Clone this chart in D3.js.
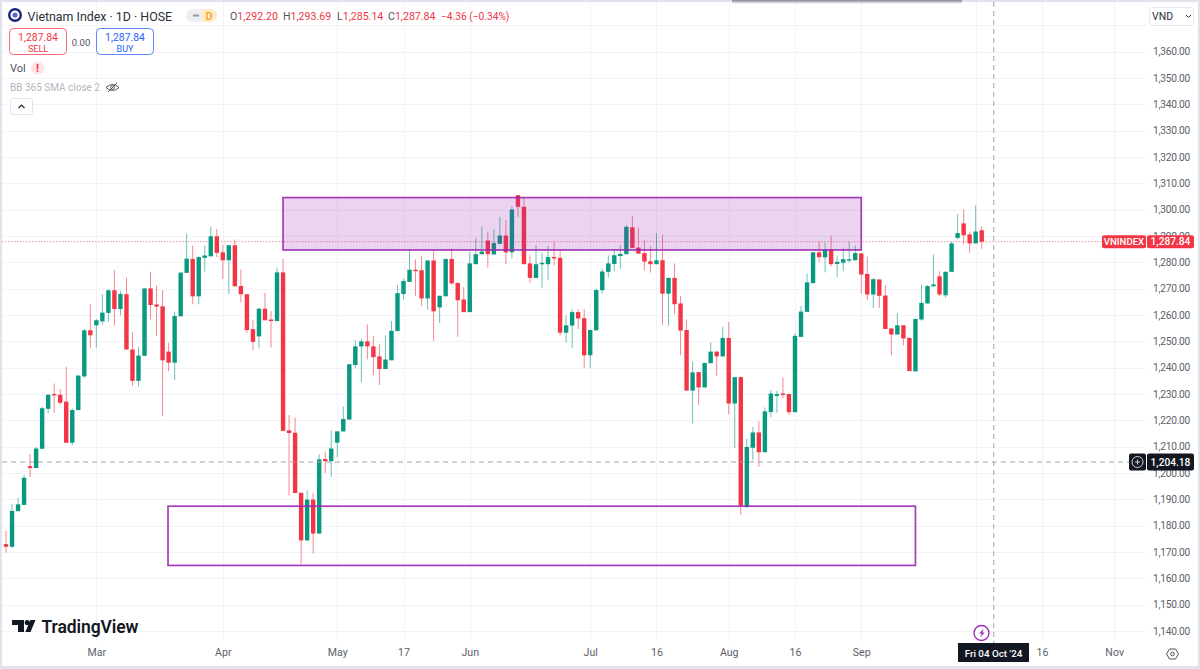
<!DOCTYPE html>
<html>
<head>
<meta charset="utf-8">
<script src="https://cdn.jsdelivr.net/npm/d3@7/dist/d3.min.js"></script>
<style>
  html, body { margin: 0; padding: 0; background: #fff; overflow: hidden; }
  svg { display: block; }
  text { font-family: Roboto, "Liberation Sans", sans-serif; }
  .axis path, .axis line { display: none; }
  .axis text { fill: #5d606b; font-size: 10.2px; letter-spacing: -0.25px; font-family: Roboto, sans-serif; }
  .axis.time text { font-size: 10.6px; letter-spacing: 0; }
</style>
</head>
<body>
<svg width="1200" height="669"></svg>
<script>
// daily candles, oldest first
var opens = [
  1173.0,1172.0,1185.5,1187.9,1202.6,1201.9,1209.2,1224.4,1230.0,1229.7,
  1227.1,1211.5,1223.9,1236.7,1254.2,1256.1,1257.6,1260.8,1269.4,1262.3,
  1267.9,1246.9,1235.0,1244.5,1270.1,1264.0,1263.3,1246.1,1241.9,1259.5,
  1276.0,1281.3,1267.1,1281.7,1282.3,1289.9,1283.8,1280.8,1286.5,1271.0,
  1267.9,1254.6,1251.9,1262.4,1258.3,1257.7,1276.2,1216.2,1215.3,1192.5,
  1174.4,1189.9,1177.0,1205.3,1204.5,1211.5,1215.8,1220.3,1241.0,1248.1,
  1250.0,1248.1,1244.3,1239.5,1242.8,1253.9,1268.0,1272.6,1277.2,1277.0,
  1266.3,1280.7,1262.9,1267.1,1281.3,1272.2,1265.9,1261.1,1279.3,1283.1,
  1288.3,1283.0,1287.0,1290.2,1283.8,1305.5,1301.1,1279.6,1274.1,1279.3,
  1279.3,1282.0,1281.7,1253.3,1256.0,1261.1,1258.8,1244.7,1254.2,1269.4,
  1276.4,1279.4,1282.4,1283.1,1293.3,1285.6,1283.5,1280.4,1279.3,1280.8,
  1268.1,1274.1,1264.4,1254.3,1231.3,1238.3,1232.5,1241.7,1246.1,1244.3,
  1251.3,1226.4,1236.4,1187.1,1209.6,1215.4,1207.9,1223.2,1229.3,1230.2,
  1230.0,1223.1,1251.7,1261.2,1272.1,1283.8,1281.9,1284.9,1279.4,1279.9,
  1280.7,1280.8,1283.4,1275.6,1267.8,1273.5,1267.4,1254.9,1252.6,1256.1,
  1251.3,1238.6,1258.3,1264.4,1270.9,1274.7,1267.5,1276.4,1289.3,1294.8,
  1290.6,1287.2,1292.2
];
var highs = [
  1178.0,1188.2,1190.6,1199.3,1207.2,1209.9,1225.1,1230.0,1234.0,1231.9,
  1240.3,1224.5,1237.3,1254.6,1264.1,1258.5,1267.9,1269.6,1277.0,1269.2,
  1274.1,1253.6,1247.9,1270.2,1276.4,1271.2,1269.4,1249.5,1261.3,1276.2,
  1290.9,1286.4,1282.3,1286.4,1293.5,1292.7,1286.5,1286.5,1288.7,1277.3,
  1267.9,1258.0,1262.7,1268.4,1261.5,1278.0,1281.4,1222.0,1221.0,1192.5,
  1193.4,1192.5,1207.1,1208.0,1216.2,1215.8,1225.3,1241.3,1250.4,1251.0,
  1256.4,1252.0,1248.9,1252.3,1257.7,1271.4,1273.8,1284.6,1281.1,1282.6,
  1280.8,1284.6,1267.4,1281.4,1285.3,1272.3,1270.7,1284.0,1289.1,1293.5,
  1291.6,1292.6,1297.3,1296.0,1301.3,1305.5,1304.3,1282.7,1286.5,1283.7,
  1286.2,1287.8,1284.9,1259.9,1262.2,1262.2,1262.3,1254.5,1270.0,1277.5,
  1282.7,1284.6,1286.5,1294.1,1297.5,1293.1,1288.4,1286.1,1291.2,1290.6,
  1274.2,1279.6,1267.2,1258.3,1242.2,1238.3,1241.9,1249.6,1246.3,1255.5,
  1257.4,1236.4,1236.6,1213.1,1217.5,1219.6,1224.9,1231.5,1231.2,1236.3,
  1230.2,1253.0,1263.5,1275.8,1283.9,1288.0,1287.4,1290.2,1282.6,1285.3,
  1287.8,1286.4,1283.5,1282.1,1274.1,1273.6,1271.4,1255.0,1260.7,1256.1,
  1251.5,1258.6,1271.4,1271.4,1283.0,1276.6,1276.6,1287.8,1298.3,1300.1,
  1291.6,1301.7,1293.69
];
var lows = [
  1169.7,1171.5,1185.5,1187.9,1198.5,1201.9,1209.2,1222.6,1222.9,1225.9,
  1211.4,1210.5,1223.9,1236.2,1247.4,1247.7,1256.3,1257.4,1256.0,1259.8,
  1246.9,1233.1,1232.9,1244.5,1258.4,1252.0,1221.6,1238.7,1235.2,1259.5,
  1276.0,1264.1,1264.1,1276.5,1282.3,1282.0,1273.7,1267.9,1270.9,1264.8,
  1253.2,1246.6,1247.4,1258.0,1247.7,1257.7,1216.0,1191.4,1192.4,1165.5,
  1174.4,1169.4,1177.0,1200.0,1198.5,1206.0,1215.8,1220.3,1239.8,1234.6,
  1243.2,1237.1,1233.4,1239.5,1242.8,1253.9,1265.9,1272.6,1267.2,1263.5,
  1262.1,1250.2,1257.0,1267.1,1271.4,1251.7,1261.1,1261.1,1279.3,1283.1,
  1278.0,1283.0,1287.0,1279.3,1281.5,1297.3,1279.3,1272.2,1274.1,1270.4,
  1273.2,1278.9,1252.2,1249.6,1247.4,1254.7,1239.9,1239.9,1254.2,1268.1,
  1274.2,1276.6,1277.6,1283.1,1285.5,1283.3,1277.0,1276.1,1279.3,1256.3,
  1255.9,1260.4,1244.7,1231.3,1218.8,1225.9,1232.5,1241.7,1236.9,1244.3,
  1222.3,1209.4,1184.1,1186.7,1204.9,1202.3,1207.9,1221.1,1222.9,1228.4,
  1222.1,1223.1,1251.7,1268.8,1272.1,1280.2,1276.2,1278.5,1274.5,1276.6,
  1279.9,1280.8,1268.1,1265.6,1262.7,1262.7,1254.7,1244.7,1252.6,1248.5,
  1238.7,1238.6,1257.8,1264.4,1270.9,1267.1,1266.6,1276.4,1288.7,1286.9,
  1283.6,1287.2,1285.14
];
var closes = [
  1172.0,1185.6,1188.1,1198.2,1201.9,1209.3,1224.6,1229.7,1229.5,1226.7,
  1211.5,1223.9,1237.0,1254.2,1252.3,1258.0,1260.9,1269.4,1262.3,1268.0,
  1246.9,1235.0,1244.6,1270.1,1263.8,1263.2,1242.8,1241.9,1259.6,1276.1,
  1281.4,1267.1,1282.0,1282.6,1289.9,1283.6,1280.8,1286.5,1270.9,1267.9,
  1254.3,1249.8,1262.4,1258.0,1257.7,1276.2,1216.0,1215.2,1192.4,1174.4,
  1189.9,1177.0,1205.2,1204.5,1209.3,1215.8,1220.5,1241.3,1248.1,1250.0,
  1248.1,1244.0,1239.5,1243.1,1254.0,1268.3,1272.9,1277.2,1276.7,1266.3,
  1280.7,1261.4,1267.3,1281.3,1272.0,1265.6,1261.1,1279.6,1283.1,1284.1,
  1283.1,1287.3,1290.2,1283.8,1300.1,1301.1,1279.3,1274.1,1279.3,1279.8,
  1282.0,1281.6,1253.3,1256.1,1261.1,1258.7,1244.7,1254.3,1269.5,1276.5,
  1279.6,1282.7,1283.2,1293.5,1285.5,1283.3,1280.3,1279.3,1280.8,1268.1,
  1274.1,1264.1,1254.1,1231.3,1238.2,1232.5,1241.8,1246.1,1244.3,1251.3,
  1226.4,1236.4,1187.6,1209.9,1215.4,1207.9,1223.4,1230.2,1230.0,1229.7,
  1223.1,1252.1,1261.3,1272.4,1283.8,1282.0,1284.9,1279.3,1280.2,1281.2,
  1281.2,1283.5,1275.4,1267.8,1273.6,1267.3,1254.7,1252.6,1256.1,1251.1,
  1238.7,1258.5,1264.6,1271.0,1271.6,1267.8,1276.4,1287.2,1291.1,1290.3,
  1287.2,1291.7,1287.84
];

// bar numbers where the time axis puts a label, the grid also has one at Oct (under the date tag)
var timeGrid = [15, 36, 55, 66, 77, 97, 108, 120, 131, 142, 161, 172, 184];
var timeTicks = [15, 36, 55, 66, 77, 97, 108, 120, 131, 142, 172, 184];
var timeLabels = ["Mar", "Apr", "May", "17", "Jun", "Jul", "16", "Aug", "16", "Sep", "16", "Nov"];
var priceGrid = d3.range(1140, 1371, 10);
var priceTicks = d3.range(1140, 1361, 10);

// the two rectangles drawn on the chart: bar from, bar to, price top, price bottom
var zoneBars = [[46, 142], [26.9, 151]];
var zonePrices = [[1304.6, 1284.7], [1187.4, 1164.9]];

var crossBar = 164;
var crossPrice = 1204.18;

var red = "#f23645", green = "#089981", dark = "#131722";
var formatPrice = d3.format(",.2f");

var svg = d3.select("svg");
var width = +svg.attr("width");
var height = +svg.attr("height");
var plotRight = 1146, plotBottom = 642;

var x = d3.scaleLinear().domain([0, 162]).range([6, 981.7]);
var y = d3.scaleLinear().domain([1140, 1360]).range([631, 51.7]);
var candles = d3.range(opens.length);
var last = closes[closes.length - 1];

// frame
svg.append("rect").attr("width", width).attr("height", height).attr("fill", "#e0e3ec");
svg.append("rect").attr("x", 2).attr("y", 2).attr("width", width - 4).attr("height", height - 5).attr("fill", "#fff");

// grid
svg.append("g").selectAll("line").data(priceGrid).enter().append("line")
  .attr("x1", 2).attr("x2", plotRight)
  .attr("y1", function(d) { return Math.round(y(d)) + 0.5; })
  .attr("y2", function(d) { return Math.round(y(d)) + 0.5; })
  .attr("stroke", "#f1f3f8");
svg.append("g").selectAll("line").data(timeGrid).enter().append("line")
  .attr("x1", function(d) { return Math.round(x(d)) + 0.5; })
  .attr("x2", function(d) { return Math.round(x(d)) + 0.5; })
  .attr("y1", 2).attr("y2", plotBottom)
  .attr("stroke", "#f1f3f8");

// last price line
svg.append("line")
  .attr("x1", 2).attr("x2", 1102)
  .attr("y1", y(last)).attr("y2", y(last))
  .attr("stroke", red).attr("stroke-opacity", 0.55).attr("stroke-dasharray", "1.5,1.5");

// candles
var candle = svg.append("g").selectAll("g").data(candles).enter().append("g");
candle.append("line")
  .attr("x1", function(i) { return x(i); })
  .attr("x2", function(i) { return x(i); })
  .attr("y1", function(i) { return y(highs[i]); })
  .attr("y2", function(i) { return y(lows[i]); })
  .attr("stroke", function(i) { return closes[i] >= opens[i] ? green : red; })
  .attr("stroke-opacity", 0.6)
  .attr("stroke-width", 1);
candle.append("rect")
  .attr("x", function(i) { return x(i) - 2.2; })
  .attr("width", 4.4)
  .attr("y", function(i) { return y(Math.max(opens[i], closes[i])); })
  .attr("height", function(i) { return Math.max(1.4, Math.abs(y(opens[i]) - y(closes[i]))); })
  .attr("fill", function(i) { return closes[i] >= opens[i] ? green : red; });

// zones
svg.append("g").selectAll("rect").data(zoneBars).enter().append("rect")
  .attr("x", function(d) { return x(d[0]); })
  .attr("width", function(d) { return x(d[1]) - x(d[0]); })
  .attr("y", function(d, i) { return y(zonePrices[i][0]); })
  .attr("height", function(d, i) { return y(zonePrices[i][1]) - y(zonePrices[i][0]); })
  .attr("fill", "#9c27b0")
  .attr("fill-opacity", function(d, i) { return i == 0 ? 0.2 : 0; })
  .attr("stroke", "#9c27b0")
  .attr("stroke-opacity", 0.9)
  .attr("stroke-width", 1.7);

// crosshair
svg.append("line")
  .attr("x1", 2).attr("x2", 1129)
  .attr("y1", y(crossPrice)).attr("y2", y(crossPrice))
  .attr("stroke", "#a3a6af").attr("stroke-dasharray", "5,4");
svg.append("line")
  .attr("x1", x(crossBar)).attr("x2", x(crossBar))
  .attr("y1", 2).attr("y2", 643)
  .attr("stroke", "#a3a6af").attr("stroke-dasharray", "5,4");

// shadow of the popup cut off at the top of the page
var shade = svg.append("defs").append("linearGradient")
  .attr("id", "shade").attr("x1", 0).attr("x2", 0).attr("y1", 0).attr("y2", 1);
shade.append("stop").attr("offset", 0).attr("stop-color", "#8a8e9a");
shade.append("stop").attr("offset", 1).attr("stop-color", "#8a8e9a").attr("stop-opacity", 0);
svg.append("rect").attr("x", 732).attr("y", 0).attr("width", 230).attr("height", 4).attr("fill", "url(#shade)");

// axes
svg.append("g")
  .attr("class", "axis")
  .attr("transform", "translate(1147,0)")
  .call(d3.axisRight(y).tickValues(priceTicks).tickFormat(formatPrice).tickSize(0).tickPadding(6));
svg.append("g")
  .attr("class", "axis time")
  .attr("transform", "translate(0,643)")
  .call(d3.axisBottom(x).tickValues(timeTicks)
    .tickFormat(function(d, i) { return timeLabels[i]; }).tickSize(0).tickPadding(5));

// tags on the price axis
function tag(x0, w, yc, h, fill, label, color, size) {
  svg.append("rect").attr("x", x0).attr("y", yc - h / 2).attr("width", w).attr("height", h)
    .attr("rx", 2).attr("fill", fill);
  if (label) {
    svg.append("text").attr("x", x0 + w / 2).attr("y", yc + 3.7).attr("text-anchor", "middle")
      .attr("fill", color).attr("font-size", size).attr("font-weight", 500).text(label);
  }
}
tag(1102, 44, y(last), 13, red, "VNINDEX", "#fff", "9.6px");
tag(1147, 47, y(last), 13, red, formatPrice(last), "#fff", "10.2px");
tag(1129, 17, y(crossPrice), 17, dark);
tag(1147, 47, y(crossPrice), 17, dark, formatPrice(crossPrice), "#fff", "10.2px");
svg.append("circle").attr("cx", 1137.5).attr("cy", y(crossPrice)).attr("r", 5.5)
  .attr("fill", "none").attr("stroke", "#d1d4dc");
svg.append("path").attr("d", "M1135 " + y(crossPrice) + "h5M1137.5 " + (y(crossPrice) - 2.5) + "v5").attr("stroke", "#d1d4dc");

// crosshair date tag
svg.append("rect").attr("x", 958).attr("y", 643).attr("width", 71).attr("height", 19).attr("fill", dark);
svg.append("text").attr("x", 993.5).attr("y", 657).attr("text-anchor", "middle")
  .attr("fill", "#fff").attr("font-size", "9.8px").attr("font-weight", 500).text("Fri 04 Oct '24");

// lightning circle
svg.append("circle").attr("cx", 981.5).attr("cy", 633).attr("r", 7.5)
  .attr("fill", "#fff").attr("stroke", "#9c27b0").attr("stroke-width", 1.3);
svg.append("path").attr("d", "M983.5 628.5l-4.2 5h2.4l-1.3 4 4.2-5h-2.4z").attr("fill", "#9c27b0");

// settings hexagon
svg.append("path").attr("d", "M1166.5 654l3-5h6l3 5-3 5h-6z").attr("fill", "none").attr("stroke", "#50535e");
svg.append("circle").attr("cx", 1172.5).attr("cy", 654).attr("r", 1.8).attr("fill", "none").attr("stroke", "#50535e");

// currency box
svg.append("rect").attr("x", 1149.5).attr("y", 7.5).attr("width", 44).attr("height", 18).attr("rx", 3)
  .attr("fill", "#fff").attr("stroke", "#e6e8ee");
svg.append("text").attr("x", 1152).attr("y", 20).attr("fill", "#2a2e39").attr("font-size", "10.5px").text("VND");
svg.append("path").attr("d", "M1186 15l2.5 2.5 2.5-2.5").attr("fill", "none").attr("stroke", "#2a2e39");

// symbol line
svg.append("circle").attr("cx", 15).attr("cy", 15).attr("r", 5.8).attr("fill", "#fff").attr("stroke", "#1a237e").attr("stroke-width", 2.4);
svg.append("circle").attr("cx", 15).attr("cy", 15).attr("r", 2.6).attr("fill", "#5c6bc0");
svg.append("text").attr("x", 27.5).attr("y", 20.5).attr("fill", "#2a2e39").attr("font-size", "12.4px").text("Vietnam Index · 1D · HOSE");
svg.append("rect").attr("x", 186).attr("y", 9).attr("width", 31).attr("height", 13).attr("rx", 6.5).attr("fill", "#eceef2");
svg.append("path").attr("d", "M201.5 9h9a6.5 6.5 0 0 1 0 13h-9z").attr("fill", "#ffe9cc");
svg.append("rect").attr("x", 193).attr("y", 14.5).attr("width", 6).attr("height", 2).attr("fill", "#9598a1");
svg.append("text").attr("x", 209).attr("y", 19.5).attr("text-anchor", "middle").attr("fill", "#f7a600").attr("font-size", "11px").attr("font-weight", 500).text("D");

var ohlcLabels = ["O", "H", "L", "C"];
var ohlcValues = ["1,292.20", "1,293.69", "1,285.14", "1,287.84"];
var ohlcX = [230, 283, 337, 388];
ohlcLabels.forEach(function(l, i) {
  var t = svg.append("text").attr("x", ohlcX[i]).attr("y", 20).attr("font-size", "10.6px");
  t.append("tspan").attr("fill", "#50535e").text(l);
  t.append("tspan").attr("fill", red).text(ohlcValues[i]);
});
svg.append("text").attr("x", 441).attr("y", 20).attr("font-size", "10.2px").attr("fill", red).text("−4.36 (−0.34%)");

// sell / buy
function tradeBox(x0, color, price, word) {
  svg.append("rect").attr("x", x0 + 0.5).attr("y", 28.5).attr("width", 57).attr("height", 26).attr("rx", 4)
    .attr("fill", "#fff").attr("stroke", color).attr("stroke-opacity", 0.75);
  svg.append("text").attr("x", x0 + 29).attr("y", 40.5).attr("text-anchor", "middle").attr("fill", color).attr("font-size", "10.4px").text(price);
  svg.append("text").attr("x", x0 + 29).attr("y", 51.5).attr("text-anchor", "middle").attr("fill", color).attr("font-size", "9px").text(word);
}
tradeBox(9, red, "1,287.84", "SELL");
tradeBox(96, "#2962ff", "1,287.84", "BUY");
svg.append("text").attr("x", 81).attr("y", 45.5).attr("text-anchor", "middle").attr("fill", "#50535e").attr("font-size", "9.5px").text("0.00");

// indicator rows
svg.append("text").attr("x", 10).attr("y", 72).attr("fill", "#50535e").attr("font-size", "11px").text("Vol");
svg.append("circle").attr("cx", 37.5).attr("cy", 68).attr("r", 6.5).attr("fill", "#fde3e5");
svg.append("text").attr("x", 37.5).attr("y", 72).attr("text-anchor", "middle").attr("fill", red).attr("font-size", "11px").attr("font-weight", 700).text("!");
svg.append("text").attr("x", 10).attr("y", 91).attr("fill", "#b2b5be").attr("font-size", "10px").text("BB 365 SMA close 2");
svg.append("path").attr("d", "M106 87.5q6.5-6 13 0q-6.5 6-13 0z").attr("fill", "none").attr("stroke", "#50535e");
svg.append("circle").attr("cx", 112.5).attr("cy", 87.5).attr("r", 1.8).attr("fill", "none").attr("stroke", "#50535e");
svg.append("path").attr("d", "M108 92l9-9").attr("stroke", "#50535e");
svg.append("rect").attr("x", 10.5).attr("y", 98.5).attr("width", 22).attr("height", 16).attr("rx", 2)
  .attr("fill", "#fff").attr("stroke", "#e0e3eb");
svg.append("path").attr("d", "M18.5 108l3-3 3 3").attr("fill", "none").attr("stroke", "#2a2e39").attr("stroke-width", 1.2);

// watermark logo
svg.append("path").attr("d", "M12 620h12v12h-6v-7h-6z").attr("fill", dark);
svg.append("circle").attr("cx", 27.3).attr("cy", 622.6).attr("r", 2.6).attr("fill", dark);
svg.append("path").attr("d", "M30.5 620h5l-5 12h-5.2z").attr("fill", dark);
svg.append("text").attr("x", 41.5).attr("y", 632.5).attr("fill", dark)
  .attr("font-family", "Inter").attr("font-size", "17.5px").attr("font-weight", 600).attr("letter-spacing", "-0.1px").text("TradingView");
</script>
</body>
</html>
